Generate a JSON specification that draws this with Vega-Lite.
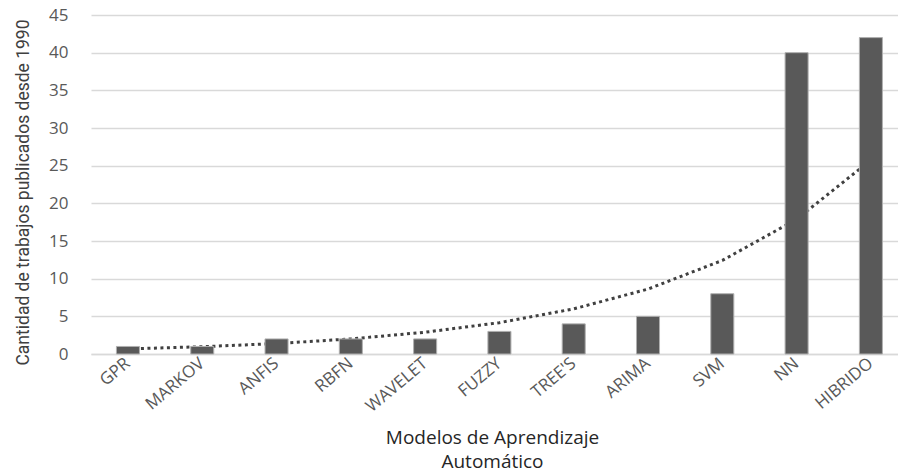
{
  "$schema": "https://vega.github.io/schema/vega-lite/v6.json",
  "autosize": "none",
  "width": 807,
  "height": 339,
  "padding": {"left": 91, "top": 15, "right": 0, "bottom": 120},
  "background": "white",
  "config": {"view": {"stroke": null}},
  "data": {
    "values": [
      {"modelo": "GPR", "trabajos": 1, "tendencia": 0.67},
      {"modelo": "MARKOV", "trabajos": 1, "tendencia": 0.97},
      {"modelo": "ANFIS", "trabajos": 2, "tendencia": 1.39},
      {"modelo": "RBFN", "trabajos": 2, "tendencia": 2.0},
      {"modelo": "WAVELET", "trabajos": 2, "tendencia": 2.89},
      {"modelo": "FUZZY", "trabajos": 3, "tendencia": 4.16},
      {"modelo": "TREE'S", "trabajos": 4, "tendencia": 5.99},
      {"modelo": "ARIMA", "trabajos": 5, "tendencia": 8.62},
      {"modelo": "SVM", "trabajos": 8, "tendencia": 12.42},
      {"modelo": "NN", "trabajos": 40, "tendencia": 17.88},
      {"modelo": "HIBRIDO", "trabajos": 42, "tendencia": 25.75}
    ]
  },
  "encoding": {
    "x": {
      "field": "modelo",
      "type": "nominal",
      "sort": null,
      "scale": {"paddingInner": 0.69, "paddingOuter": 0.276, "align": 0.62},
      "axis": {
        "title": ["Modelos de Aprendizaje", "Automático"],
        "titleFont": "Open Sans",
        "titleFontSize": 19,
        "titleFontWeight": "normal",
        "titleColor": "#262626",
        "titleLineHeight": 24,
        "titleX": 401,
        "titleY": 74,
        "titleBaseline": "top",
        "titleAlign": "center",
        "labelFont": "Open Sans",
        "labelFontSize": 17,
        "labelColor": "#595959",
        "labelAngle": -40,
        "labelAlign": "right",
        "labelBaseline": "middle",
        "labelPadding": 7,
        "labelDx": 7,
        "labelOverlap": false,
        "ticks": false,
        "domain": true,
        "domainColor": "#d9d9d9",
        "domainWidth": 1.5
      }
    }
  },
  "layer": [
    {
      "mark": {"type": "line", "color": "#404040", "strokeWidth": 3, "strokeDash": [3, 3.5]},
      "encoding": {
        "y": {
          "field": "tendencia",
          "type": "quantitative",
          "scale": {"domain": [0, 45], "nice": false},
          "axis": {
            "values": [0, 5, 10, 15, 20, 25, 30, 35, 40, 45],
            "labelOverlap": false,
            "title": "Cantidad de trabajos publicados desde 1990",
            "titleFont": "Liberation Sans Narrow, Roboto",
            "titleFontSize": 17.5,
            "titleFontWeight": "normal",
            "titleColor": "#404040",
            "titleAngle": -90,
            "titleX": -68,
            "titleY": 177,
            "titleAlign": "center",
            "titleBaseline": "middle",
            "labelFont": "Open Sans",
            "labelFontSize": 17,
            "labelColor": "#595959",
            "labelPadding": 23,
            "ticks": false,
            "domain": false,
            "grid": true,
            "gridColor": "#d9d9d9",
            "gridWidth": 1.5
          }
        }
      }
    },
    {
      "mark": {"type": "bar", "color": "#595959", "stroke": "#b0b0b0", "strokeWidth": 1},
      "encoding": {
        "y": {
          "field": "trabajos",
          "type": "quantitative",
          "scale": {"domain": [0, 45], "nice": false},
          "axis": {
            "values": [0, 5, 10, 15, 20, 25, 30, 35, 40, 45],
            "labelOverlap": false,
            "title": "Cantidad de trabajos publicados desde 1990",
            "titleFont": "Liberation Sans Narrow, Roboto",
            "titleFontSize": 17.5,
            "titleFontWeight": "normal",
            "titleColor": "#404040",
            "titleAngle": -90,
            "titleX": -68,
            "titleY": 177,
            "titleAlign": "center",
            "titleBaseline": "middle",
            "labelFont": "Open Sans",
            "labelFontSize": 17,
            "labelColor": "#595959",
            "labelPadding": 23,
            "ticks": false,
            "domain": false,
            "grid": true,
            "gridColor": "#d9d9d9",
            "gridWidth": 1.5
          }
        }
      }
    }
  ]
}
